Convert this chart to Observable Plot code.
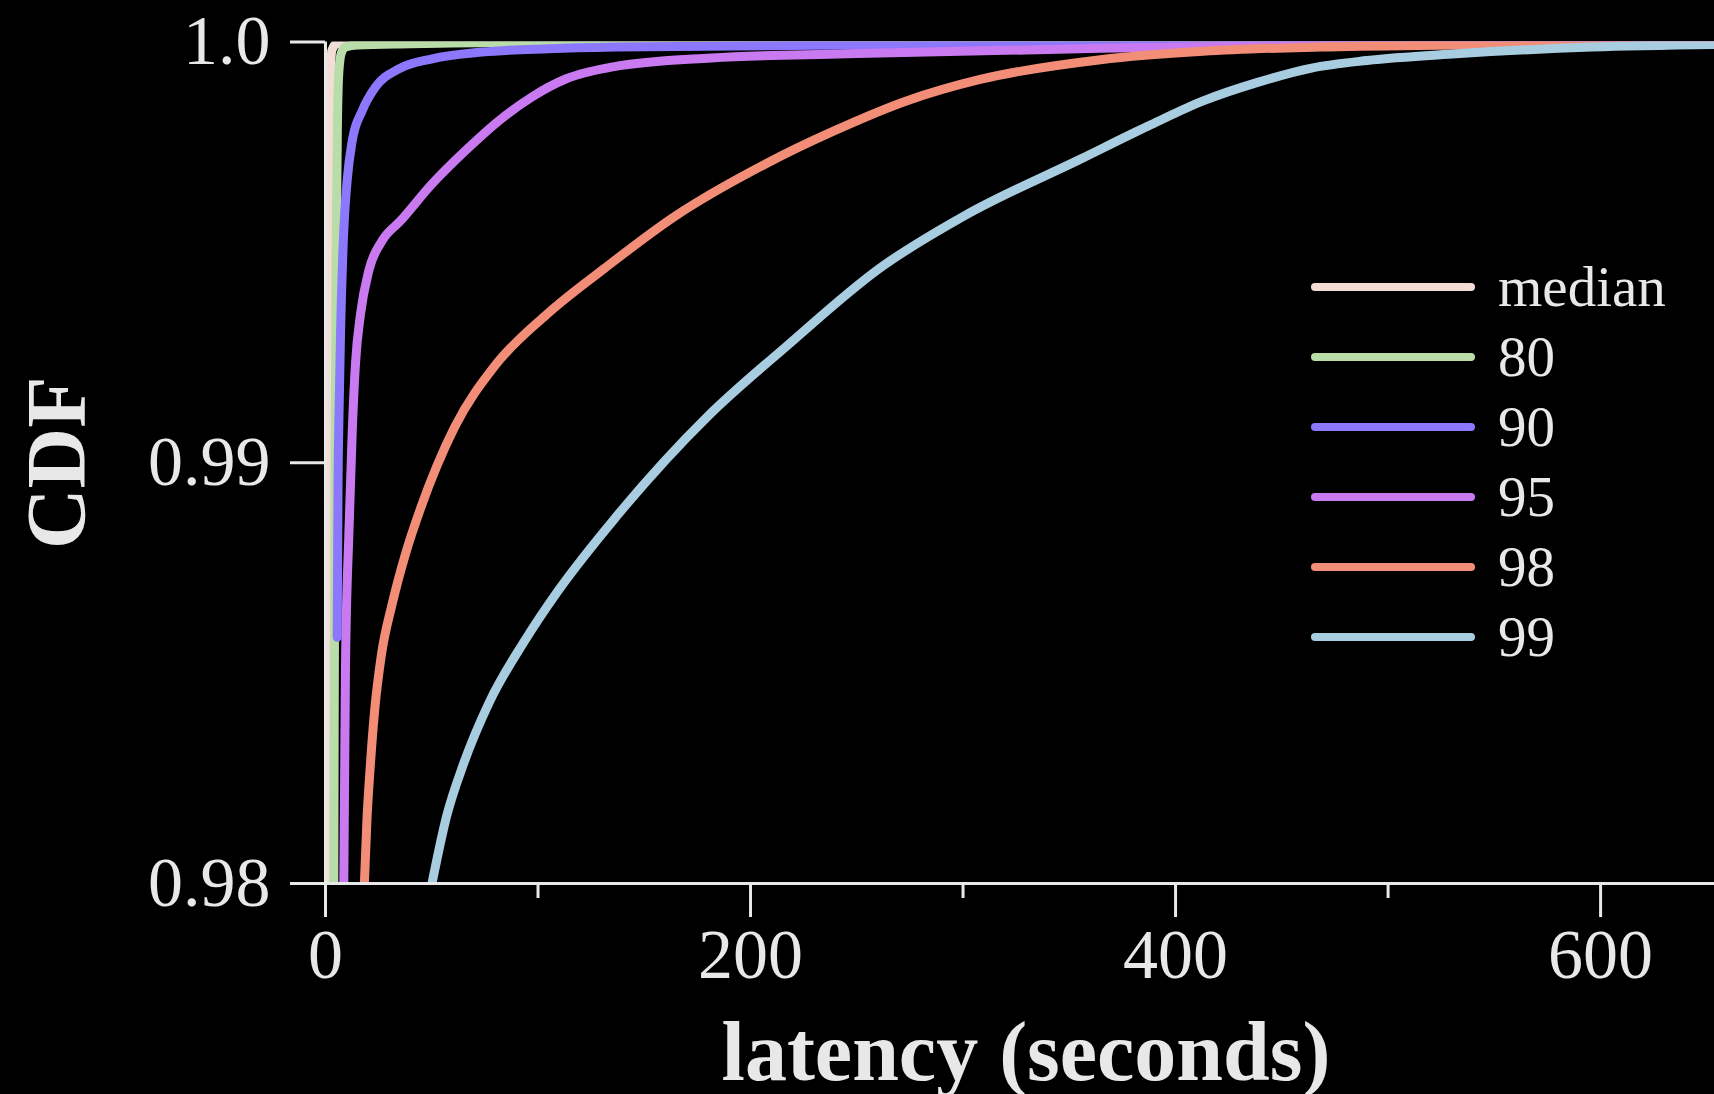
<!DOCTYPE html>
<html>
<head>
<meta charset="utf-8">
<script src="https://cdn.jsdelivr.net/npm/d3@7"></script>
<script src="https://cdn.jsdelivr.net/npm/@observablehq/plot@0.6"></script>
<style>
  html, body { margin: 0; padding: 0; background: #000; }
  #wrap { position: relative; width: 1714px; height: 1094px; overflow: hidden; }
  #legend { position: absolute; left: 1311px; top: 252px; font-family: "Liberation Serif", "DejaVu Serif", serif; font-size: 57px; color: #e8e8e8; }
  #legend .row { display: flex; align-items: center; height: 70px; line-height: 70px; }
  #legend svg { display: block; margin-right: 23px; }
</style>
</head>
<body>
<div id="wrap"><div id="legend"></div></div>
<script>
// ---- data (latency in seconds, CDF value) ----
const seriesNames = ["median", "80", "90", "95", "98", "99"];
const seriesColors = ["#f2ded6", "#b8dda9", "#8c78fc", "#c97af0", "#f28e77", "#a9cde0"];

const medianLatency = [0.8, 1.0, 1.3, 1.7, 2.2, 3.0, 5.0, 12, 653.6];
const medianCdf     = [0.98, 0.985, 0.99, 0.995, 0.999, 0.9998, 0.99995, 1.0, 1.0];

const p80Latency = [3.9, 4.1, 4.5, 5.0, 5.6, 6.3, 7.5, 9.5, 15, 40, 100, 653.6];
const p80Cdf     = [0.98, 0.984, 0.99, 0.995, 0.998, 0.9993, 0.99975, 0.99988, 0.99993, 0.99996, 1.0, 1.0];

const p90Latency = [5.5, 5.9, 6.3, 7.1, 8.6, 10.2, 12.6, 17.3, 23.5, 34.5, 50.2, 73.7, 105, 136.5, 250, 400, 653.6];
const p90Cdf     = [0.98585, 0.9895, 0.9910, 0.99314, 0.99552, 0.99671, 0.99766, 0.99837, 0.99893, 0.99936, 0.9996, 0.99976, 0.99984, 0.99988, 0.99993, 0.99997, 1.0];

const p95Latency = [8.6, 9.4, 11.0, 12.6, 14.1, 16.5, 20.4, 26.7, 35.3, 50.2, 65.9, 81.6, 97.3, 113, 135.2, 181.5, 245, 364.7, 480, 596, 653.6];
const p95Cdf     = [0.98, 0.98513, 0.98832, 0.99077, 0.99235, 0.99354, 0.99457, 0.99528, 0.99575, 0.99663, 0.99742, 0.99813, 0.99870, 0.99912, 0.99941, 0.99962, 0.99972, 0.99985, 0.99994, 1.0, 1.0];

const p98Latency = [18.3, 19.5, 21.1, 23.1, 26.2, 31.4, 37.5, 44.7, 60.8, 79.8, 104, 131.3, 163.6, 206.6, 239, 274, 308, 364.7, 412.9, 468, 532, 596, 653.6];
const p98Cdf     = [0.98, 0.98151, 0.98281, 0.9841, 0.9854, 0.98665, 0.98781, 0.98891, 0.99085, 0.99231, 0.99352, 0.99462, 0.99583, 0.99709, 0.99788, 0.99861, 0.99911, 0.99958, 0.99978, 0.99988, 0.99993, 0.99997, 1.0];

const p99Latency = [50.1, 57, 65, 77, 94, 109.5, 136.5, 179.8, 217.4, 260.7, 301, 355, 387, 413, 438.6, 464, 490, 532, 596, 653.6];
const p99Cdf     = [0.98, 0.9816, 0.98285, 0.9843, 0.98579, 0.98696, 0.9887, 0.9911, 0.99279, 0.99462, 0.99588, 0.99721, 0.998, 0.9986, 0.99904, 0.99938, 0.99956, 0.99972, 0.99988, 0.99994];

const xTicksMajor = [0, 200, 400, 600];
const xTickLabels = ["0", "200", "400", "600"];
const xTicksMinor = [100, 300, 500];
const yTicks = [0.98, 0.99, 1.0];
const yTickLabels = ["0.98", "0.99", "1.0"];
const xLabel = "latency (seconds)";
const yLabel = "CDF";

// ---- build table ----
const lat = [medianLatency, p80Latency, p90Latency, p95Latency, p98Latency, p99Latency];
const cdf = [medianCdf, p80Cdf, p90Cdf, p95Cdf, p98Cdf, p99Cdf];
const rows = [];
seriesNames.forEach((name, i) => {
  lat[i].forEach((s, j) => rows.push({series: name, latency: s, cdf: cdf[i][j]}));
});

const FONT = "Liberation Serif, DejaVu Serif, serif";
const INK = "#e8e8e8";

const chart = Plot.plot({
  width: 1714,
  height: 1094,
  marginLeft: 325,
  marginRight: 0,
  marginTop: 41.5,
  marginBottom: 211,
  style: {background: "#000", color: INK, fontFamily: FONT, overflow: "visible"},
  x: {domain: [0, 653.6]},
  y: {domain: [0.98, 1.0]},
  color: {domain: seriesNames, range: seriesColors},
  marks: [
    Plot.line(rows, {
      x: "latency", y: "cdf", z: "series", stroke: "series",
      strokeWidth: 9, curve: "monotone-x", clip: true,
      strokeLinecap: "round", strokeLinejoin: "round"
    }),
    Plot.ruleY([0.98], {stroke: INK, strokeWidth: 3}),
    Plot.ruleX([0], {stroke: INK, strokeWidth: 3}),
    Plot.axisY({
      ticks: yTicks, tickSize: 35, tickPadding: 20,
      tickFormat: (d) => yTickLabels[yTicks.indexOf(d)],
      fontSize: 70, fontFamily: FONT, strokeWidth: 3, label: null, fill: INK, stroke: INK
    }),
    Plot.axisX({
      ticks: xTicksMajor, tickSize: 34, tickPadding: 11,
      tickFormat: (d) => xTickLabels[xTicksMajor.indexOf(d)],
      fontSize: 70, fontFamily: FONT, strokeWidth: 3, label: null, fill: INK, stroke: INK
    }),
    Plot.axisX({
      ticks: xTicksMinor, tickSize: 15, text: null,
      strokeWidth: 3, label: null, stroke: INK
    }),
    Plot.text([xLabel], {
      text: (d) => d, frameAnchor: "bottom", dx: 6, dy: 196,
      fontSize: 84, fontWeight: "bold", fontFamily: FONT, fill: INK
    }),
    Plot.text([yLabel], {
      text: (d) => d, frameAnchor: "left", dx: -267, rotate: -90,
      textAnchor: "middle", lineAnchor: "middle",
      fontSize: 84, fontWeight: "bold", fontFamily: FONT, fill: INK
    })
  ]
});

const wrap = document.getElementById("wrap");
wrap.insertBefore(chart, wrap.firstChild);

// ---- legend ----
const legend = d3.select("#legend");
seriesNames.forEach((name, i) => {
  const row = legend.append("div").attr("class", "row");
  const svg = row.append("svg").attr("width", 164).attr("height", 10);
  svg.append("line").attr("x1", 4).attr("x2", 160).attr("y1", 5).attr("y2", 5)
    .attr("stroke", seriesColors[i]).attr("stroke-width", 8).attr("stroke-linecap", "round");
  row.append("span").text(name);
});
</script>
</body>
</html>
